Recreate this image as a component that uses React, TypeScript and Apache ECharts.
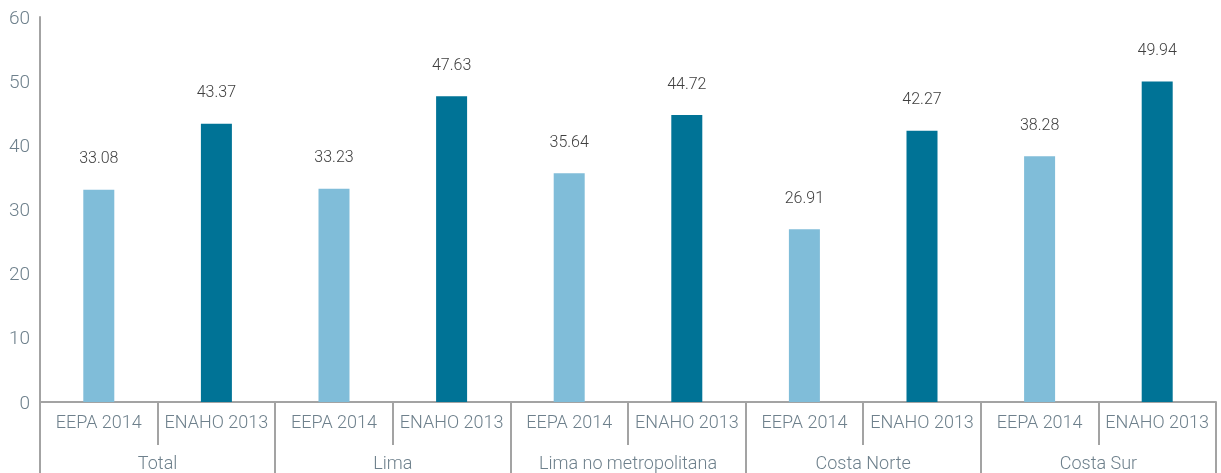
import React, { useEffect, useRef } from "react";
import * as echarts from "echarts";

const groups = ["Total", "Lima", "Lima no metropolitana", "Costa Norte", "Costa Sur"];
const seriesNames = ["EEPA 2014", "ENAHO 2013"];
const eepa = [33.08, 33.23, 35.64, 26.91, 38.28];
const enaho = [43.37, 47.63, 44.72, 42.27, 49.94];
const yTicks = { min: 0, max: 60, interval: 10 };

const LIGHT = "#80bdd9";
const DARK = "#007396";
const AXIS = "#a3a3a3";
const LABEL = "#6e808c";

export default function App() {
  const ref = useRef<HTMLDivElement>(null);
  useEffect(() => {
    if (!ref.current) return;
    const chart = echarts.init(ref.current, null, { renderer: "svg" });
    const cats: string[] = [];
    const data: any[] = [];
    groups.forEach((g, i) => {
      cats.push(seriesNames[0]);
      data.push({ value: eepa[i], itemStyle: { color: LIGHT } });
      cats.push(seriesNames[1]);
      data.push({ value: enaho[i], itemStyle: { color: DARK } });
    });
    const font = { fontFamily: "Roboto", fontWeight: 300 };
    chart.setOption({
      animation: false,
      grid: { left: 40, right: 5, top: 17, bottom: 71, containLabel: false },
      xAxis: [
        {
          type: "category",
          data: cats,
          position: "bottom",
          axisLine: { show: true, lineStyle: { color: AXIS, width: 2 } },
          axisTick: { show: true, interval: 0, length: 43, lineStyle: { color: AXIS, width: 2 } },
          axisLabel: { interval: 0, margin: 10, color: LABEL, fontSize: 18, ...font },
        },
        {
          type: "category",
          data: groups,
          position: "bottom",
          axisLine: { show: false },
          axisTick: { show: true, interval: 0, length: 71, lineStyle: { color: AXIS, width: 2 } },
          axisLabel: { interval: 0, margin: 51, color: LABEL, fontSize: 18, ...font },
        },
      ],
      yAxis: {
        type: "value",
        min: yTicks.min,
        max: yTicks.max,
        interval: yTicks.interval,
        axisLine: { show: true, lineStyle: { color: AXIS, width: 2 } },
        axisTick: { show: false },
        splitLine: { show: false },
        axisLabel: { margin: 10, color: LABEL, fontSize: 19, ...font },
      },
      series: [
        {
          type: "bar",
          xAxisIndex: 0,
          data,
          barWidth: 31,
          label: {
            show: true,
            position: "top",
            distance: 24,
            color: "#404040",
            fontSize: 16,
            ...font,
          },
        },
      ],
    });
    return () => chart.dispose();
  }, []);
  return <div ref={ref} style={{ position: "fixed", left: 0, top: 0, width: 1221, height: 473 }} />;
}
